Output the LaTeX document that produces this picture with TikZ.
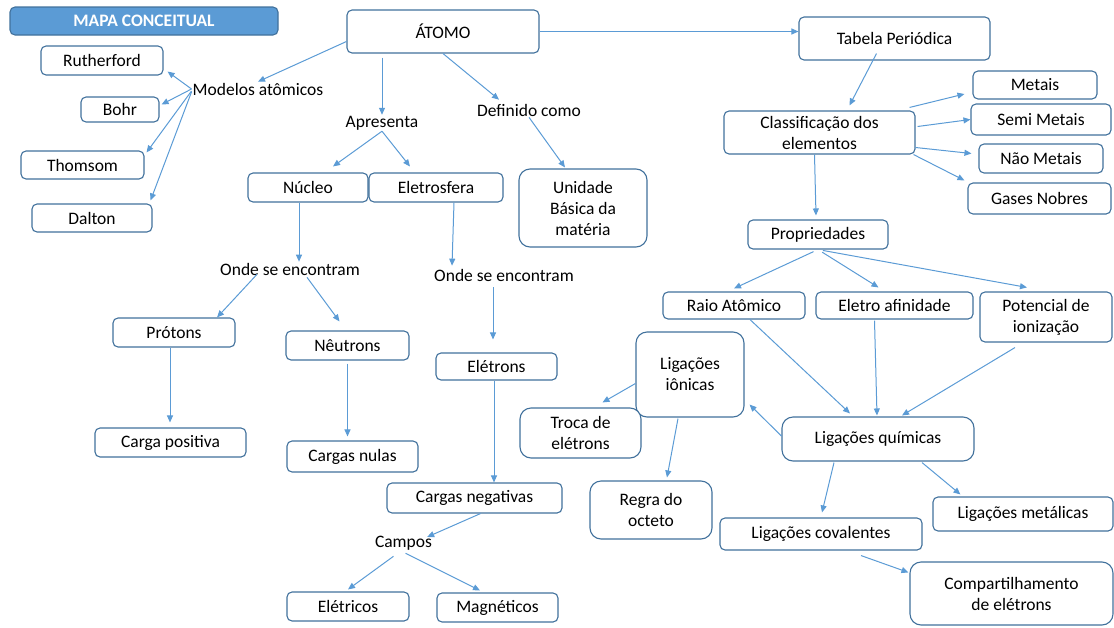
\documentclass[tikz,border=0pt]{standalone}
\usepackage{fontspec}
\setmainfont{Carlito}
\usepackage{tikz}
\usetikzlibrary{arrows.meta,calc}

\definecolor{azul}{HTML}{5B9BD5}
\definecolor{borda}{HTML}{41719C}

\begin{document}
\begin{tikzpicture}[x=1pt,y=-1pt,
  font=\fontsize{17.5}{21}\selectfont,
  caixa/.style={draw=borda,line width=1.1pt,rounded corners=5pt,fill=white,align=center,inner sep=0pt},
  caixag/.style={caixa,rounded corners=11pt},
  texto/.style={inner sep=1pt},
  seta/.style={draw=azul,line width=1pt,-{Triangle[length=7pt,width=6pt]}}]
\useasboundingbox (0,0) rectangle (1114,627);

% titulo
\node[caixa,fill=azul,text=white,font=\fontsize{17.5}{20}\selectfont\bfseries,minimum width=268pt,minimum height=28pt] (titulo) at (144,21) {MAPA CONCEITUAL};

% lado esquerdo
\node[caixa,minimum width=192pt,minimum height=43pt] (atomo) at (443,31.5) {ÁTOMO};
\node[texto] (modelos) at (258,89) {Modelos atômicos};
\node[caixa,minimum width=122pt,minimum height=29pt] (rutherford) at (102,60.5) {Rutherford};
\node[caixa,minimum width=78pt,minimum height=25pt] (bohr) at (120,109.5) {Bohr};
\node[caixa,minimum width=123pt,minimum height=28pt] (thomsom) at (82.5,165) {Thomsom};
\node[caixa,minimum width=120pt,minimum height=28pt] (dalton) at (92,218) {Dalton};
\node[texto] (apresenta) at (382,123) {Apresenta};
\node[texto] (definido) at (529,110) {Definido como};
\node[caixa,minimum width=120pt,minimum height=29pt] (nucleo) at (308,187.5) {Núcleo};
\node[caixa,minimum width=134pt,minimum height=29pt] (eletrosfera) at (436,187.5) {Eletrosfera};
\node[caixag,minimum width=128pt,minimum height=78pt] (unidade) at (583,208) {Unidade\\Básica da\\matéria};
\node[texto] (onde1) at (290,269) {Onde se encontram};
\node[caixa,minimum width=122pt,minimum height=29pt] (protons) at (174,332.5) {Prótons};
\node[caixa,minimum width=123pt,minimum height=29pt] (neutrons) at (347.5,345.5) {Nêutrons};
\node[caixa,minimum width=151pt,minimum height=29pt] (cargapos) at (170.5,442.5) {Carga positiva};
\node[caixa,minimum width=131pt,minimum height=31pt] (cargasnulas) at (352.5,456.5) {Cargas nulas};
\node[texto] (onde2) at (504,275) {Onde se encontram};
\node[caixa,minimum width=121pt,minimum height=27pt] (eletrons) at (496.5,366.5) {Elétrons};
\node[caixa,minimum width=175pt,minimum height=30pt] (cargasneg) at (474.5,498) {Cargas negativas};
\node[texto] (campos) at (403.5,543) {Campos};
\node[caixa,minimum width=122pt,minimum height=29pt] (eletricos) at (348,606.5) {Elétricos};
\node[caixa,minimum width=121pt,minimum height=29pt] (magneticos) at (497.5,607.5) {Magnéticos};

% lado direito
\node[caixa,minimum width=191pt,minimum height=43pt] (tabela) at (894.5,38.5) {Tabela Periódica};
\node[caixa,minimum width=191pt,minimum height=43pt] (classif) at (819.5,132.5) {Classificação dos\\elementos};
\node[caixa,minimum width=124pt,minimum height=28pt] (metais) at (1035,85) {Metais};
\node[caixa,minimum width=140pt,minimum height=31pt] (semimetais) at (1041,119.5) {Semi Metais};
\node[caixa,minimum width=124pt,minimum height=29pt] (naometais) at (1041,158.5) {Não Metais};
\node[caixa,minimum width=143pt,minimum height=31pt] (gases) at (1039.5,198.5) {Gases Nobres};
\node[caixa,minimum width=140pt,minimum height=29pt] (propriedades) at (818,234.5) {Propriedades};
\node[caixa,minimum width=142pt,minimum height=27pt] (raio) at (734,305.5) {Raio Atômico};
\node[caixa,minimum width=157pt,minimum height=27pt] (eletroaf) at (894.5,305.5) {Eletro afinidade};
\node[caixa,minimum width=132pt,minimum height=50pt] (potencial) at (1046,317) {Potencial de\\ionização};
\node[caixag,minimum width=108pt,minimum height=85pt] (ionicas) at (690,374.5) {Ligações\\iônicas};
\node[caixag,minimum width=192pt,minimum height=44pt] (quimicas) at (878,439) {Ligações químicas};
\node[caixag,minimum width=121pt,minimum height=50pt] (troca) at (580.5,433) {Troca de\\elétrons};
\node[caixag,minimum width=122pt,minimum height=58pt] (regra) at (651,510) {Regra do\\octeto};
\node[caixa,minimum width=202pt,minimum height=32pt] (covalentes) at (821,534) {Ligações covalentes};
\node[caixa,minimum width=180pt,minimum height=34pt] (metalicas) at (1023,514) {Ligações metálicas};
\node[caixag,minimum width=203pt,minimum height=63pt] (compart) at (1011.5,593.5) {Compartilhamento\\de elétrons};

% setas
\draw[seta] ([yshift=-10pt]atomo.west) -- (modelos.north);
\draw[seta] (modelos.west) -- ([xshift=4pt,yshift=4pt]rutherford.south east);
\draw[seta] (modelos.west) -- ([xshift=2pt,yshift=5pt]bohr.east);
\draw[seta] ([yshift=-2pt]modelos.west) -- ([xshift=2pt,yshift=-2pt]thomsom.north east);
\draw[seta] ([yshift=-3pt]modelos.west) -- ([xshift=-2pt,yshift=3pt]dalton.north east);
\draw[seta,shorten <=4pt] (apresenta.north |- atomo.south) -- (apresenta.north);
\draw[seta] (atomo.south) -- ([xshift=-30pt,yshift=3pt]definido.north);
\draw[seta] (apresenta.south) -- ([xshift=25pt,yshift=6pt]nucleo.north);
\draw[seta] (apresenta.south) -- ([xshift=-26pt,yshift=6pt]eletrosfera.north);
\draw[seta] (definido.south) -- ([xshift=-18pt,yshift=1pt]unidade.north);
\draw[seta] (atomo.east) -- (atomo.east -| tabela.west);
\draw[seta] ([xshift=-18pt,yshift=7pt]tabela.south) -- ([xshift=30pt,yshift=5pt]classif.north);
\draw[seta] ([xshift=-6pt,yshift=3pt]classif.north east) -- ([xshift=-8pt,yshift=-9pt]metais.west);
\draw[seta] ([xshift=2pt,yshift=6pt]classif.east) -- (semimetais.west);
\draw[seta] ([yshift=-15pt]classif.east) -- ([xshift=-7pt,yshift=5pt]naometais.west);
\draw[seta] ([xshift=-2pt]classif.south east) -- ([xshift=-3pt,yshift=2pt]gases.north west);
\draw[seta] ([xshift=-5pt]classif.south) -- ([xshift=-2pt,yshift=4pt]propriedades.north);
\draw[seta,shorten <=5pt] (propriedades.south) -- ([yshift=3pt]raio.north);
\draw[seta,shorten <=5pt] (propriedades.south) -- ([xshift=-16pt,yshift=4pt]eletroaf.north);
\draw[seta,shorten <=5pt] (propriedades.south) -- ([xshift=-19pt,yshift=4pt]potencial.north);
\draw[seta] ([xshift=16pt]raio.south) -- ([xshift=-28pt,yshift=3pt]quimicas.north);
\draw[seta] ([xshift=-20pt,yshift=-1pt]eletroaf.south) -- ([xshift=-1pt,yshift=1pt]quimicas.north);
\draw[seta] ([xshift=-31pt,yshift=-5pt]potencial.south) -- ([xshift=24pt,yshift=1pt]quimicas.north);
\draw[seta] ([yshift=3pt]quimicas.west) -- ([xshift=5pt,yshift=13pt]ionicas.south east);
\draw[seta] ([yshift=-9pt]ionicas.west) -- ([xshift=22pt,yshift=5pt]troca.north);
\draw[seta] ([xshift=-12pt,yshift=-1pt]ionicas.south) -- ([xshift=16pt,yshift=3pt]regra.north);
\draw[seta] ([xshift=-44pt,yshift=-1pt]quimicas.south) -- ([xshift=1pt,yshift=5pt]covalentes.north);
\draw[seta] ([xshift=44pt,yshift=-1pt]quimicas.south) -- ([xshift=28pt,yshift=2pt]metalicas.north west);
\draw[seta] ([xshift=40pt,yshift=-5pt]covalentes.south) -- ([xshift=-1pt,yshift=-11pt]compart.north west);
\draw[seta] ([xshift=-9pt]nucleo.south) -- ([xshift=-9pt]nucleo.south |- onde1.north);
\draw[seta] ([xshift=-33pt,yshift=2pt]onde1.south) -- ([xshift=43pt]protons.north);
\draw[seta] ([xshift=17pt,yshift=-1pt]onde1.south) -- ([xshift=-8pt,yshift=9pt]neutrons.north);
\draw[seta,shorten >=5pt] ([xshift=-4pt]protons.south) -- ([xshift=-4pt]protons.south |- cargapos.north);
\draw[seta,shorten >=4pt,shorten <=3pt] (neutrons.south) -- (neutrons.south |- cargasnulas.north);
\draw[seta] ([xshift=18pt]eletrosfera.south) -- ([xshift=-52pt,yshift=2pt]onde2.north);
\draw[seta,shorten >=13pt,shorten <=5pt] ([xshift=-11pt]onde2.south) -- ([xshift=-11pt]onde2.south |- eletrons.north);
\draw[seta] ([xshift=-2.5pt]eletrons.south) -- ([xshift=-2.5pt]eletrons.south |- cargasneg.north);
\draw[seta] ([xshift=6pt]cargasneg.south) -- ([xshift=-6pt,yshift=6pt]campos.east);
\draw[seta] ([xshift=-10pt,yshift=-5pt]campos.south) -- ([yshift=2pt]eletricos.north);
\draw[seta] ([xshift=2pt,yshift=-2pt]campos.south) -- ([xshift=-17.5pt,yshift=2pt]magneticos.north);
\end{tikzpicture}
\end{document}
